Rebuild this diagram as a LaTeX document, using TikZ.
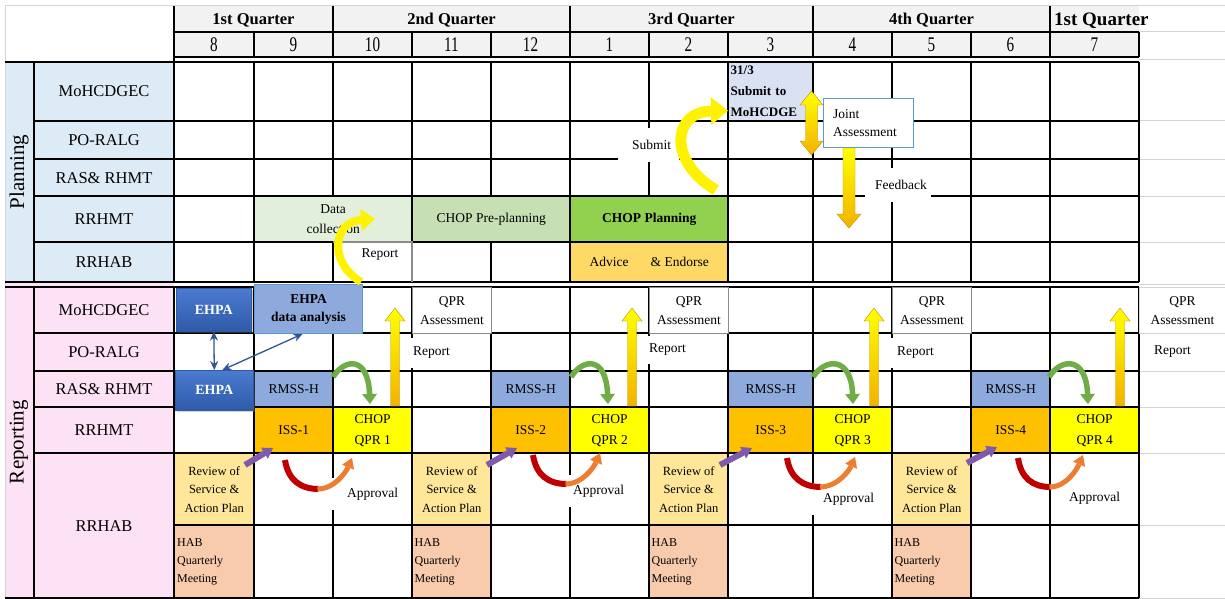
\documentclass[tikz,border=0pt]{standalone}
\usepackage{fontspec}
\setmainfont{Liberation Serif}
\usetikzlibrary{arrows.meta,shadows,calc}
\definecolor{planblue}{HTML}{DDEBF7}
\definecolor{reppink}{HTML}{FDE1F5}
\definecolor{headgray}{HTML}{F2F2F2}
\definecolor{datagreen}{HTML}{E2EFDA}
\definecolor{pregreen}{HTML}{C6E0B4}
\definecolor{plangreen}{HTML}{92D050}
\definecolor{advicey}{HTML}{FFD966}
\definecolor{lav}{HTML}{D9E1F2}
\definecolor{ehpatop}{HTML}{4A7BD0}
\definecolor{ehpabot}{HTML}{2F5AA8}
\definecolor{ehpalight}{HTML}{8EA9DB}
\definecolor{boxblue}{HTML}{5B9BD5}
\definecolor{issor}{HTML}{FFC000}
\definecolor{chopy}{HTML}{FFFF00}
\definecolor{revy}{HTML}{FFE699}
\definecolor{habp}{HTML}{F8CBAD}
\definecolor{amber}{HTML}{F2B200}
\definecolor{arrgreen}{HTML}{70AD47}
\definecolor{arrred}{HTML}{C00000}
\definecolor{arror}{HTML}{ED7D31}
\definecolor{arrpurple}{HTML}{7E5BAE}
\definecolor{darrblue}{HTML}{2F5597}
\definecolor{lgrid}{HTML}{D4D4D4}
\definecolor{qgray}{HTML}{8C8C8C}
\begin{document}
\begin{tikzpicture}[x=1pt,y=-1pt,
  grid/.style={line width=1.3pt,black},
  lgridline/.style={line width=1pt,lgrid},
  rowlbl/.style={font=\fontsize{16.5}{18}\selectfont,inner sep=0pt},
  hdr/.style={font=\fontsize{16.5}{18}\selectfont\bfseries,inner sep=0pt},
  mon/.style={font=\fontsize{16}{18}\selectfont,inner sep=0pt},
  cellbox/.style={inner sep=0pt,anchor=north west,align=center,font=\fontsize{13.5}{19}\selectfont},
  txt/.style={inner sep=0pt,font=\fontsize{13.5}{19}\selectfont},
  wlbl/.style={fill=white,inner sep=0pt,anchor=west,font=\fontsize{13.5}{19}\selectfont},
  ehpabox/.style={inner sep=0pt,anchor=north west,top color=ehpatop,bottom color=ehpabot,draw=ehpabot,line width=0.6pt,text=white,font=\fontsize{14}{16}\selectfont\bfseries,drop shadow={opacity=0.35,shadow xshift=1.5pt,shadow yshift=-2pt}},
  yarrow/.style={line width=11pt,color=yellow,-{Triangle[width=28pt,length=17pt,line width=0pt]}},
  garrow/.style={line width=5.5pt,color=arrgreen,-{Triangle[width=15pt,length=10pt,line width=0pt]}},
  parrow/.style={line width=6pt,color=arrpurple,-{Triangle[width=13pt,length=10pt,line width=0pt]}},
  oarrow/.style={line width=5pt,color=arror,-{Triangle[width=13pt,length=10pt,line width=0pt]}},
  barrow/.style={line width=1.3pt,color=darrblue,{Stealth[length=9pt,width=8pt]}-{Stealth[length=9pt,width=8pt]}}
]
\useasboundingbox (0,0) rectangle (1225,599);
\fill[white] (0,0) rectangle (1225,599);

% backgrounds
\fill[planblue] (5,62) rectangle (174,282);
\fill[reppink] (5,283) rectangle (174,598);
\fill[headgray] (174,6) rectangle (1139,57);

% header text
\node[hdr] (q1) at (253.5,20) {1st Quarter};
\node[hdr] (q2) at (451.5,20) {2nd Quarter};
\node[hdr] (q3) at (691.5,20) {3rd Quarter};
\node[hdr] (q4) at (931.5,20) {4th Quarter};
\node[hdr,anchor=west,font=\fontsize{19}{20}\selectfont\bfseries] (q5) at (1054,21) {1st Quarter};
\foreach \a/\b/\m in {174/254/8,254/333/9,333/412/10,412/491/11,491/570/12,570/649/1,649/728/2,728/813/3,813/892/4,892/971/5,971/1050/6,1050/1139/7}
  \node[mon] (m\m) at ({(\a+\b)/2},45) {\scalebox{0.95}[1.3]{\m}};

% category labels
\node[rotate=90,font=\fontsize{21}{22}\selectfont,inner sep=0pt] (catplan) at (19,172) {Planning};
\node[rotate=90,font=\fontsize{21}{22}\selectfont,inner sep=0pt] (catrep) at (19,442) {Reporting};

% row labels
\node[rowlbl] (pl1) at (104,91) {MoHCDGEC};
\node[rowlbl] (pl2) at (104,140) {PO-RALG};
\node[rowlbl] (pl3) at (104,178) {RAS\& RHMT};
\node[rowlbl] (pl4) at (104,219) {RRHMT};
\node[rowlbl] (pl5) at (104,262) {RRHAB};
\node[rowlbl] (rl1) at (104,310) {MoHCDGEC};
\node[rowlbl] (rl2) at (104,352) {PO-RALG};
\node[rowlbl] (rl3) at (104,389) {RAS\& RHMT};
\node[rowlbl] (rl4) at (104,430) {RRHMT};
\node[rowlbl] (rl5) at (104,526) {RRHAB};

% planning cells
\node[cellbox,fill=lav,minimum width=85pt,minimum height=59pt,align=left,text width=80pt,font=\fontsize{13}{21}\selectfont\bfseries] (subm) at (728,62) {31/3\\Submit to\\MoHCDGE};
\node[cellbox,fill=datagreen,minimum width=158pt,minimum height=46pt,font=\fontsize{13.5}{20}\selectfont] (datac) at (254,196) {Data\\collection};
\node[cellbox,fill=pregreen,minimum width=158pt,minimum height=46pt] (prepl) at (412,196) {CHOP Pre-planning};
\node[cellbox,fill=plangreen,minimum width=158pt,minimum height=46pt,font=\fontsize{13.5}{19}\selectfont\bfseries] (chopplan) at (570,196) {CHOP Planning};
\node[cellbox,fill=advicey,minimum width=158pt,minimum height=40pt] (advice) at (570,242) {Advice\hspace{22pt}\& Endorse};

% reporting cells
\foreach \x/\w/\n in {254/79/1,491/79/2,728/85/3,971/79/4} {
  \node[cellbox,fill=ehpalight,minimum width=\w pt,minimum height=36pt] (rmss\n) at (\x,371) {RMSS-H};
  \node[cellbox,fill=issor,minimum width=\w pt,minimum height=46pt] (iss\n) at (\x,407) {ISS-\n};
}
\foreach \x/\w/\n in {333/79/1,570/79/2,813/79/3,1050/89/4}
  \node[cellbox,fill=chopy,minimum width=\w pt,minimum height=46pt,font=\fontsize{13.5}{21}\selectfont] (chop\n) at (\x,407) {CHOP\\QPR \n};
\foreach \x/\w/\n in {174/80/1,412/79/2,649/79/3,892/79/4} {
  \node[cellbox,fill=revy,minimum width=\w pt,minimum height=72pt,font=\fontsize{12.5}{18.5}\selectfont] (rev\n) at (\x,453) {Review of\\Service \&\\Action Plan};
  \node[cellbox,fill=habp,minimum width=\w pt,minimum height=73pt,align=left,text width=74pt,font=\fontsize{12}{18}\selectfont] (hab\n) at (\x,525) {HAB\\Quarterly\\Meeting};
}

% light spreadsheet grid at right and borders
\foreach \y in {6,32,60,121,159,196,242,284,333,371,407,453,525,598}
  \draw[lgridline] (1139,\y) -- (1225,\y);
\draw[lgridline] (1225,6) -- (1225,598);
\draw[lgridline] (5,6) -- (1139,6);
\draw[lgridline] (5,6) -- (5,598);

% black grid: header
\foreach \x in {174,333,570,813,1050} \draw[grid] (\x,6) -- (\x,32);
\foreach \x in {174,254,333,412,491,570,649,728,813,892,971,1050,1139} \draw[grid] (\x,32) -- (\x,57);
\draw[grid] (174,32) -- (1139,32);
\draw[grid] (174,57) -- (1139,57);
\draw[grid] (174,57) -- (174,62);
\draw[grid] (5,62) -- (1139,62);
% planning
\foreach \x in {34,174,254,333,412,491,570,649,728,813,892,971,1050,1139} \draw[grid] (\x,62) -- (\x,196);
\foreach \x in {34,174,254,412,570,728,813,892,971,1050,1139} \draw[grid] (\x,196) -- (\x,242);
\foreach \x in {34,174,254,333,412,491,570,728,813,892,971,1050,1139} \draw[grid] (\x,242) -- (\x,282);
\foreach \y in {121,159,196,242} \draw[grid] (34,\y) -- (1139,\y);
\draw[grid] (5,282) -- (1139,282);
\draw[grid] (5,287) -- (1139,287);
% reporting
\foreach \x in {34,174,254,333,412,491,570,649,728,813,892,971,1050,1139} \draw[grid] (\x,287) -- (\x,598);
\foreach \y in {333,371,407,453} \draw[grid] (34,\y) -- (1139,\y);
\draw[grid] (174,525) -- (1139,525);
\draw[grid] (5,598) -- (1139,598);

% gray bordered cells
\draw[line width=1.2pt,qgray] (333,242) -- (412,242) -- (412,282);
\node[txt] (rep0) at (380,255) {Report};
\foreach \x/\w/\n/\c in {412/79/1/qgray,649/79/2/qgray,892/79/3/qgray,1139/86/4/lgrid}
  \node[cellbox,draw=\c,line width=1.2pt,fill=white,minimum width=\w pt,minimum height=46pt] (qpr\n) at (\x,287) {QPR\\Assessment};

% overlay boxes
\node[ehpabox,minimum width=75pt,minimum height=43pt] (ehpa1) at (176,288) {EHPA};
\node[ehpabox,minimum width=78pt,minimum height=40pt] (ehpa2) at (175,370) {EHPA};
\node[cellbox,fill=ehpalight,draw=boxblue,line width=1pt,minimum width=108pt,minimum height=49pt,font=\fontsize{13.5}{18}\selectfont\bfseries] (eda) at (254,284) {EHPA\\data analysis};
\node[draw=boxblue,line width=1pt,fill=white,inner sep=0pt,minimum width=90pt,minimum height=48pt,text width=70pt,align=left,font=\fontsize{13.5}{18}\selectfont] (joint) at (868,123) {Joint\\Assessment};

% white labels over grid
\node[wlbl,minimum height=34pt] (sbm) at (618,145) {\hspace*{14pt}Submit\hspace*{8pt}};
\node[wlbl,minimum height=34pt] (fb) at (865,185) {\hspace*{10pt}Feedback\hspace*{4pt}};
\node[wlbl,minimum height=30pt] (rp1) at (409,353) {\hspace*{4pt}Report\hspace*{4pt}};
\node[wlbl,minimum height=28pt] (rp2) at (646,350) {\hspace*{3pt}Report\hspace*{4pt}};
\node[wlbl,minimum height=30pt] (rp3) at (890,353) {\hspace*{7pt}Report\hspace*{4pt}};
\node[wlbl,minimum height=28pt] (rp4) at (1151,352) {\hspace*{3pt}Report\hspace*{4pt}};
\node[wlbl,minimum height=32pt] (ap1) at (332,494) {\hspace*{15pt}Approval\hspace*{4pt}};
\node[wlbl,minimum height=32pt] (ap2) at (568,491) {\hspace*{5pt}Approval\hspace*{4pt}};
\node[wlbl,minimum height=32pt] (ap3) at (811,499) {\hspace*{12pt}Approval\hspace*{4pt}};
\node[wlbl,minimum height=30pt] (ap4) at (1054,498) {\hspace*{15pt}Approval\hspace*{4pt}};

% block arrows (yellow gradient)
\shadedraw[top color=yellow,bottom color=amber,draw=amber!80!black,line width=0.4pt]
  (811.5,91) -- (823,105) -- (817.5,105) -- (817.5,141) -- (823,141) -- (811.5,155)
  -- (800,141) -- (805.5,141) -- (805.5,105) -- (800,105) -- cycle;
\shadedraw[top color=yellow,bottom color=amber,draw=amber!80!black,line width=0.4pt]
  (843,148) -- (855,148) -- (855,214) -- (861,214) -- (849,228) -- (837,214) -- (843,214) -- cycle;
\foreach \c in {395,632,874,1120}
  \shadedraw[top color=yellow,bottom color=amber,draw=amber!80!black,line width=0.4pt]
    (\c,308) -- (\c+10,321) -- (\c+4.5,321) -- (\c+4.5,406) -- (\c-4.5,406) -- (\c-4.5,321) -- (\c-10,321) -- cycle;

% curved yellow arrows
\draw[yarrow] (716,190) .. controls (668,162) and (672,112) .. ([yshift=-19pt]subm.west);
\draw[yarrow,line width=8pt,-{Triangle[width=22pt,length=14pt,line width=0pt]}] (361,282) .. controls (328,262) and (333,222) .. (375,219);

% green arrows RMSS-H -> CHOP QPR
\foreach \r/\t in {333/370,571/608,813/853,1049/1088}
  \draw[garrow] (\r,377) .. controls (\r+12,358) and (\t-2,356) .. (\t,404);

% red/orange arrows ISS -> CHOP QPR
\foreach \sx/\sy/\hx/\hy in {285/460/352/458,533/455/600/453,787/458/855/457,1018/458/1083/455} {
  \draw[line width=6pt,arrred] (\sx,\sy) .. controls (\sx+3,\sy+20) and ({(\sx+\hx)/2-18},\sy+29) .. ({(\sx+\hx)/2},\sy+29);
  \draw[oarrow] ({(\sx+\hx)/2-1},\sy+29) .. controls ({(\sx+\hx)/2+16},\sy+29) and (\hx-6,\hy+14) .. (\hx,\hy);
}

% purple arrows Review -> ISS
\foreach \ax/\ay/\bx/\by in {245/465/273/448,487/465/517/448,720/465/752/448,967/463/997/447}
  \draw[parrow] (\ax,\ay) -- (\bx,\by);

% blue double arrows between EHPA boxes
\draw[barrow] (ehpa1.south) -- (ehpa2.north);
\draw[barrow] ([xshift=8pt]ehpa2.north) -- ([xshift=-6pt]eda.south);
\end{tikzpicture}
\end{document}
